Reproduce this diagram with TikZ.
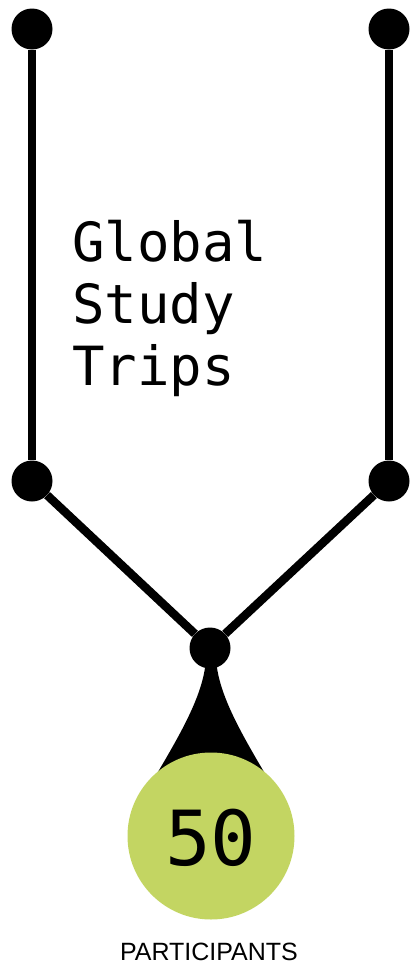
\documentclass[tikz,border=0pt]{standalone}
\usepackage{fontspec}
\newfontfamily\monofont{DejaVu Sans Mono}
\newfontfamily\labelfont{Liberation Sans}
\definecolor{lime}{HTML}{C3D562}
\begin{document}
\begin{tikzpicture}[x=1pt,y=-1pt,
  dot/.style={circle,fill=black,inner sep=0pt,minimum size=41pt},
  wire/.style={line width=8.5pt,draw=black}]
\useasboundingbox (0,0) rectangle (412,969);
\node[dot] (tl) at (32,29) {};
\node[dot] (tr) at (389,29) {};
\node[dot] (ml) at (32,481) {};
\node[dot] (mr) at (389,481) {};
\node[dot] (j) at (210,648) {};
\draw[wire] (tl) -- (ml);
\draw[wire] (tr) -- (mr);
\draw[wire] (ml) -- (j);
\draw[wire] (mr) -- (j);
\fill[black] (205,660) -- (205,668) .. controls (200,700) and (180,735) .. (152,782)
  -- (270,782) .. controls (242,735) and (222,700) .. (217,668) -- (217,660) -- cycle;
\node[circle,fill=lime,inner sep=0pt,minimum size=167pt] (c) at (211,836) {};
\node[font=\monofont\fontsize{76}{76}\selectfont] (n) at (211,838) {50};
\node[anchor=north west,align=left,inner sep=0pt,
  font=\monofont\fontsize{54}{62}\selectfont] (t) at (72,220) {Global\\Study\\Trips};
\node[font=\labelfont\fontsize{25}{25}\selectfont,inner sep=0pt] (p) at (209,952) {PARTICIPANTS};
\end{tikzpicture}
\end{document}
